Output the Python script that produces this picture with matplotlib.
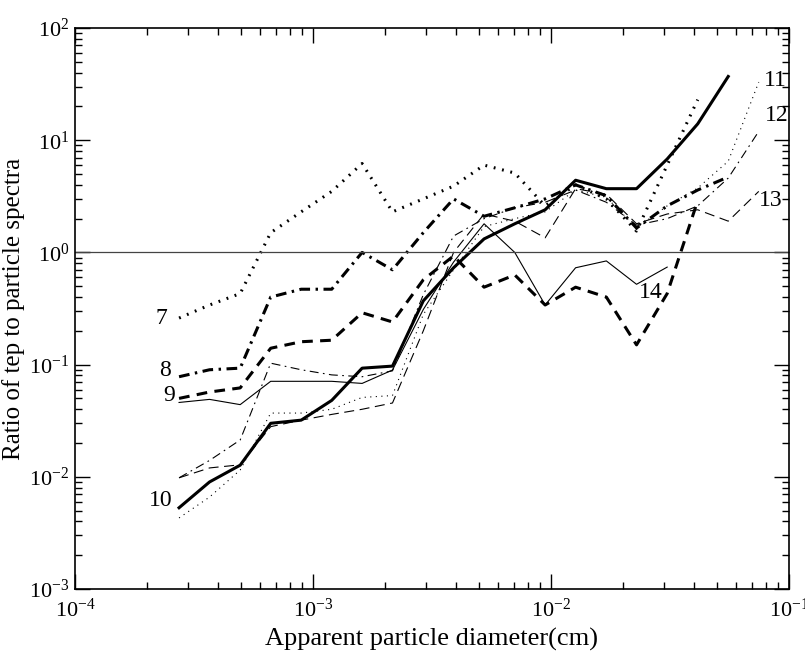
import matplotlib
matplotlib.use("Agg")
import matplotlib.pyplot as plt
from matplotlib.ticker import LogLocator, NullFormatter

plt.rcParams['font.family'] = ['Liberation Serif', 'DejaVu Serif']
plt.rcParams['mathtext.fontset'] = 'custom'
plt.rcParams['mathtext.rm'] = 'Liberation Serif'

# apparent particle diameter (cm), bin centres
diam = [2.74e-4, 3.68e-4, 4.95e-4, 6.65e-4, 8.93e-4, 1.20e-3, 1.61e-3,
        2.16e-3, 2.91e-3, 3.90e-3, 5.24e-3, 7.05e-3, 9.46e-3, 1.27e-2,
        1.71e-2, 2.29e-2, 3.08e-2, 4.14e-2, 5.56e-2, 7.47e-2]

# ratio of tep to particle spectra, one list per station
r7 = [0.26, 0.34, 0.43, 1.5, 2.3, 3.5, 6.2, 2.3, 3.0, 3.9, 6.0, 5.1, 2.6,
      4.0, 3.0, 1.55, 6.0, 23]
r8 = [0.078, 0.090, 0.093, 0.40, 0.47, 0.47, 1.0, 0.70, 1.5, 3.0, 2.1, 2.5,
      3.0, 4.0, 3.2, 1.65, 2.6, 3.6, 4.7]
r9 = [0.050, 0.057, 0.062, 0.14, 0.16, 0.165, 0.29, 0.24, 0.57, 0.93, 0.49,
      0.63, 0.34, 0.49, 0.40, 0.15, 0.43, 2.9]
r10 = [0.0053, 0.009, 0.0127, 0.030, 0.032, 0.048, 0.093, 0.097, 0.37, 0.73,
       1.32, 1.8, 2.4, 4.4, 3.7, 3.7, 6.8, 14, 37]
r11 = [0.0043, 0.0066, 0.0115, 0.037, 0.037, 0.040, 0.051, 0.053, 0.28, 0.7,
       1.7, 2.0, 2.3, 3.6, 3.1, 1.65, 2.6, 3.75, 6.5, 33]
r12 = [0.0098, 0.014, 0.0213, 0.103, 0.090, 0.081, 0.078, 0.088, 0.42, 1.4,
       2.0, 2.5, 2.8, 3.6, 2.8, 1.75, 2.0, 2.6, 4.6, 12]
r13 = [0.0098, 0.012, 0.0128, 0.028, 0.032, 0.036, 0.040, 0.0455, 0.2, 1.0,
       2.2, 1.9, 1.35, 3.7, 3.3, 1.8, 2.2, 2.4, 1.9, 3.5]
r14 = [0.046, 0.049, 0.044, 0.071, 0.071, 0.071, 0.068, 0.0895, 0.31, 0.82,
       1.8, 1.0, 0.34, 0.73, 0.84, 0.52, 0.74]

labels = ['7', '8', '9', '10', '11', '12', '13', '14']
label_x = [2.3e-4, 2.4e-4, 2.5e-4, 2.3e-4, 0.0880, 0.0890, 0.0840, 0.0262]
label_y = [0.26, 0.0895, 0.0536, 0.0062, 34.0, 16.5, 2.9, 0.435]

fig = plt.figure(figsize=(8.05, 6.52), dpi=100)
ax = fig.add_axes([0.093, 0.0966, 0.887, 0.8604])

thick = 2.2
thin = 0.8
ax.plot(diam[:len(r7)], r7, color='k', lw=thick, dashes=(0.6, 2.2))
ax.plot(diam[:len(r8)], r8, color='k', lw=thick, dashes=(3.5, 1.8, 0.8, 1.8))
ax.plot(diam[:len(r9)], r9, color='k', lw=thick, dashes=(3.5, 2.4))
ax.plot(diam[:len(r10)], r10, color='k', lw=thick)
ax.plot(diam[:len(r11)], r11, color='k', lw=thin, dashes=(1, 4))
ax.plot(diam[:len(r12)], r12, color='k', lw=thin, dashes=(8, 4, 1.5, 4))
ax.plot(diam[:len(r13)], r13, color='k', lw=thin, dashes=(9, 5))
ax.plot(diam[:len(r14)], r14, color='k', lw=thin)

ax.axhline(1.0, color='#444444', lw=0.9)

for t, x, y in zip(labels, label_x, label_y):
    ax.text(x, y, t, fontsize=17, ha='center', va='center')

ax.set_xscale('log')
ax.set_yscale('log')
ax.set_xlim(1e-4, 1e-1)
ax.set_ylim(1e-3, 1e2)
ax.xaxis.set_minor_locator(LogLocator(base=10, subs=range(2, 10)))
ax.yaxis.set_minor_locator(LogLocator(base=10, subs=range(2, 10)))
ax.xaxis.set_minor_formatter(NullFormatter())
ax.yaxis.set_minor_formatter(NullFormatter())
ax.tick_params(which='both', direction='in', top=True, right=True,
               labelsize=16, width=1)
ax.tick_params(axis='x', pad=7)
ax.tick_params(axis='y', pad=4)
ax.tick_params(which='major', length=11)
ax.tick_params(which='minor', length=5)
for s in ax.spines.values():
    s.set_linewidth(1.2)

ax.set_xlabel('Apparent particle diameter(cm)', fontsize=19)
ax.set_ylabel('Ratio of tep to particle spectra', fontsize=18)
ax.xaxis.set_label_coords(0.5, -0.07)
ax.yaxis.set_label_coords(-0.07, 0.5)

fig.savefig('out.png', dpi=100)
